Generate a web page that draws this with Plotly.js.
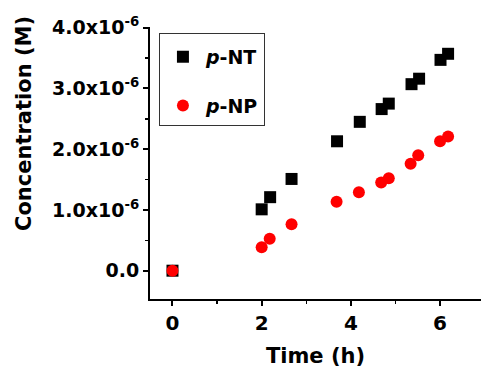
<!DOCTYPE html>
<html>
<head>
<meta charset="utf-8">
<script src="https://cdn.plot.ly/plotly-3.0.1.min.js"></script>
<style>html,body{margin:0;padding:0;background:#fff;}#chart{width:481px;height:374px;}</style>
</head>
<body>
<div id="chart"></div>
<script>
// Time (h)
const ntTime = [0, 2.00, 2.19, 2.67, 3.69, 4.20, 4.69, 4.85, 5.36, 5.53, 6.01, 6.18];
// p-NT concentration (M)
const ntConc = [0, 1.01e-6, 1.21e-6, 1.51e-6, 2.13e-6, 2.45e-6, 2.66e-6, 2.75e-6, 3.07e-6, 3.16e-6, 3.47e-6, 3.57e-6];
const npTime = [0, 2.00, 2.18, 2.67, 3.68, 4.18, 4.68, 4.85, 5.34, 5.51, 6.00, 6.18];
// p-NP concentration (M)
const npConc = [0, 0.385e-6, 0.527e-6, 0.764e-6, 1.136e-6, 1.29e-6, 1.45e-6, 1.52e-6, 1.76e-6, 1.90e-6, 2.13e-6, 2.21e-6];

const yTickVals = [0, 1e-6, 2e-6, 3e-6, 4e-6];
const yTickText = ["0.0", "1.0x10<sup>-6</sup>", "2.0x10<sup>-6</sup>", "3.0x10<sup>-6</sup>", "4.0x10<sup>-6</sup>"];
const xTickVals = [0, 2, 4, 6];
const seriesNames = ["<i>p</i>-NT", "<i>p</i>-NP"];

const FONT = "DejaVu Sans, Arial, sans-serif";

const traces = [
  {x: ntTime, y: ntConc, name: seriesNames[0], mode: "markers", type: "scatter", legendgroup: "a",
   marker: {symbol: "square", size: 12, color: "#000000"}},
  {x: npTime, y: npConc, name: seriesNames[1], mode: "markers", type: "scatter", legendgroup: "b",
   marker: {symbol: "circle", size: 12, color: "#ff0000"}}
];

const layout = {
  width: 481, height: 374,
  margin: {l: 150, r: 0, t: 27, b: 75, pad: 0},
  paper_bgcolor: "#ffffff", plot_bgcolor: "#ffffff",
  font: {family: FONT, color: "#000", weight: "bold"},
  showlegend: true,
  legend: {
    x: 0.027, y: 0.978, xanchor: "left", yanchor: "top",
    bordercolor: "#333", borderwidth: 1, bgcolor: "#fff",
    font: {family: FONT, size: 19, weight: "bold", color: "#000"},
    tracegroupgap: 21, itemwidth: 36,
    title: {text: " ", font: {size: 3}}
  },
  xaxis: {
    range: [-0.504, 6.918], showgrid: false, zeroline: false,
    showline: true, linecolor: "#000", linewidth: 2,
    ticks: "outside", ticklen: 5, tickwidth: 2, tickcolor: "#000",
    tickmode: "array", tickvals: xTickVals,
    tickfont: {family: FONT, size: 20, weight: "bold"},
    minor: {dtick: 1, tick0: 0, ticks: "outside", ticklen: 3, tickwidth: 1.5, tickcolor: "#000"},
    title: {text: "Time (h)", font: {family: FONT, size: 21, weight: "bold"}, standoff: 14}
  },
  yaxis: {
    range: [-0.466e-6, 4.011e-6], showgrid: false, zeroline: false,
    showline: true, linecolor: "#000", linewidth: 2,
    ticks: "outside", ticklen: 5, tickwidth: 2, tickcolor: "#000",
    tickmode: "array", tickvals: yTickVals, ticktext: yTickText,
    tickfont: {family: FONT, size: 19, weight: "bold"},
    minor: {dtick: 0.5e-6, tick0: 0, ticks: "outside", ticklen: 3, tickwidth: 1.5, tickcolor: "#000"}
  },
  annotations: [{
    text: "Concentration (M)", xref: "paper", yref: "paper",
    x: -0.3807, y: 0.647, xanchor: "center", yanchor: "middle",
    textangle: -90, showarrow: false,
    font: {family: FONT, size: 21, weight: "bold", color: "#000"}
  }]
};

Plotly.newPlot("chart", traces, layout, {displayModeBar: false, staticPlot: true});
</script>
</body>
</html>
